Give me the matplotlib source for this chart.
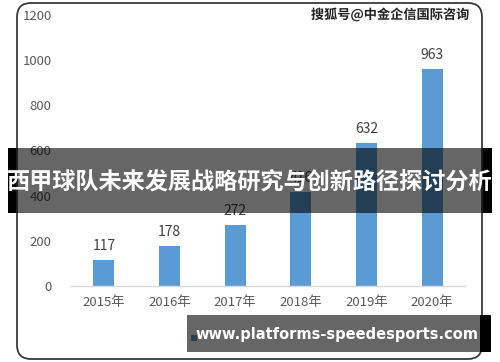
import matplotlib
matplotlib.use("Agg")
import matplotlib.pyplot as plt
from matplotlib.patches import FancyBboxPatch, Rectangle
import matplotlib.patheffects as pe

plt.rcParams['font.family'] = ['Noto Sans CJK SC', 'DejaVu Sans']

years = ['2015年', '2016年', '2017年', '2018年', '2019年', '2020年']
values = [117, 178, 272, 416, 632, 963]
yticks = [0, 200, 400, 600, 800, 1000, 1200]
title = '西甲球队未来发展战略研究与创新路径探讨分析'
site = 'www.platforms-speedesports.com'
mark = '搜狐号@中金企信国际咨询'

W, H = 500, 362
fig = plt.figure(figsize=(W / 100, H / 100), dpi=100)

def pixel_axes():
    a = fig.add_axes([0, 0, 1, 1])
    a.set_xlim(0, W)
    a.set_ylim(H, 0)
    a.axis('off')
    a.patch.set_alpha(0)
    return a

# background layer: rounded chart frame
bg = pixel_axes()
frame = FancyBboxPatch((17, 3), 465, 356, boxstyle="round,pad=0,rounding_size=14",
                       fc='white', ec='#3a3a3a', lw=1.3, zorder=0)
bg.add_patch(frame)

# main bar chart
ax = fig.add_axes([71 / W, (H - 286) / H, (465 - 71) / W, (286 - 15) / H])
ax.patch.set_alpha(0)
x = range(len(years))
ax.bar(x, values, width=0.32, color='#5b9bd5', zorder=2)
ax.set_xlim(-0.5, 5.5)
ax.set_ylim(0, 1200)
ax.set_yticks(yticks)
ax.set_xticks(list(x))
ax.set_xticklabels(years)
for s in ['top', 'right', 'left']:
    ax.spines[s].set_visible(False)
ax.spines['bottom'].set_color('#d9d9d9')
ax.spines['bottom'].set_linewidth(1.0)
ax.tick_params(axis='both', length=0, colors='#595959', labelsize=9.5)
ax.tick_params(axis='y', pad=14)
ax.tick_params(axis='x', pad=7)
for xi, v in zip(x, values):
    ax.annotate(str(v), (xi, v), xytext=(0, 5), textcoords='offset points',
                ha='center', va='bottom', fontsize=10, color='#404040')

# legend marker hidden behind the bottom banner
bg.add_patch(Rectangle((191, 335), 6, 6, fc='#5b9bd5', zorder=1))

# watermark
bg.text(470, 15, mark, fontsize=9.5, color='#222222', ha='right', va='center',
        fontweight='bold',
        path_effects=[pe.withStroke(linewidth=1.5, foreground='white')])

# top layer: banners
top = pixel_axes()
top.add_patch(Rectangle((8, 148), 484, 65, fc='black', alpha=0.6, lw=0))
top.add_patch(Rectangle((8, 148), 8, 65, fc='black', lw=0))
top.add_patch(Rectangle((483, 148), 9, 65, fc='black', lw=0))
top.text(250, 183, title, fontsize=16.7, color='white', fontweight='bold',
         ha='center', va='center')

top.add_patch(Rectangle((187, 315), 293, 37, fc='black', alpha=0.6, lw=0))
top.add_patch(Rectangle((480, 315), 11, 37, fc='black', lw=0))
top.text(478, 334, site, fontsize=10.5, color='white', fontweight='bold',
         ha='right', va='center', family=['DejaVu Sans'])

fig.savefig('out.png', dpi=100)
